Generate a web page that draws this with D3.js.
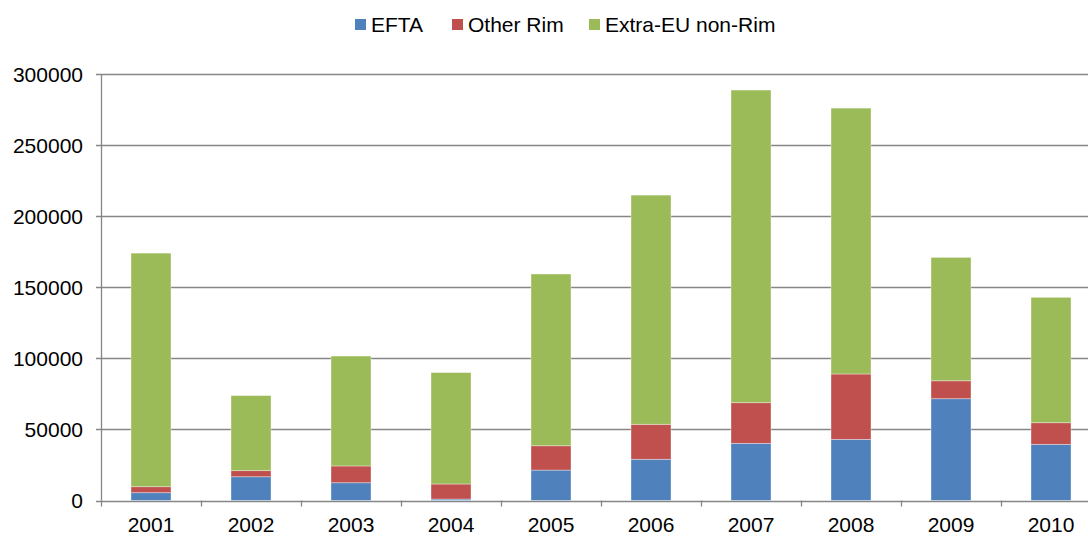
<!DOCTYPE html>
<html>
<head>
<meta charset="utf-8">
<script src="https://cdn.jsdelivr.net/npm/d3@7"></script>
<style>
  body { margin: 0; background: #fff; }
  svg text { font-family: "Liberation Sans", Arial, sans-serif; fill: #000; }
</style>
</head>
<body>
<div id="chart"></div>
<script>
// Data
const years = ["2001", "2002", "2003", "2004", "2005", "2006", "2007", "2008", "2009", "2010"];
const efta = [5500, 16700, 12500, 1000, 21400, 29000, 40200, 43000, 71600, 39500];
const otherRim = [4200, 4300, 11800, 10600, 17100, 24600, 28600, 46000, 12600, 15200];
const extraEU = [164300, 52800, 77300, 78400, 120800, 161200, 219900, 187000, 86800, 88200];
const seriesNames = ["EFTA", "Other Rim", "Extra-EU non-Rim"];
const yTicks = [0, 50000, 100000, 150000, 200000, 250000, 300000];

const config = {
  width  : 1088,
  height : 536,
  left   : 101,
  right  : 1101,
  top    : 74,
  bottom : 500.5,
  fontSize : "21px",
  colors : ["#4F81BD", "#C0504D", "#9BBB59"],
  grid   : "#868686"
};

const svg = d3.select("#chart")
  .append("svg")
    .attr("width", config.width)
    .attr("height", config.height);

const rows = years.map(function (y, i) {
  return { year: y, "EFTA": efta[i], "Other Rim": otherRim[i], "Extra-EU non-Rim": extraEU[i] };
});
const stacked = d3.stack().keys(seriesNames)(rows);

const x = d3.scaleBand()
  .domain(years)
  .range([config.left, config.right])
  .paddingInner(0.6)
  .paddingOuter(0.3);

const y = d3.scaleLinear()
  .domain([0, 300000])
  .range([config.bottom, config.top]);

// gridlines
svg.append("g")
  .selectAll("line")
  .data(yTicks)
  .enter()
    .append("line")
    .attr("x1", config.left - 5)
    .attr("x2", config.width)
    .attr("y1", d => Math.round(y(d)) + 0.5)
    .attr("y2", d => Math.round(y(d)) + 0.5)
    .style("stroke", config.grid)
    .style("stroke-width", 1.3);

// y labels
svg.append("g")
  .selectAll("text")
  .data(yTicks)
  .enter()
    .append("text")
    .attr("x", 83)
    .attr("y", d => y(d))
    .attr("dy", "0.36em")
    .attr("text-anchor", "end")
    .style("font-size", config.fontSize)
    .text(d => d);

// y axis line
svg.append("line")
  .attr("x1", config.left + 0.5)
  .attr("x2", config.left + 0.5)
  .attr("y1", config.top)
  .attr("y2", config.bottom)
  .style("stroke", config.grid)
  .style("stroke-width", 1.3);

// category ticks
const step = x.step();
const catTicks = d3.range(years.length + 1).map(i => config.left + i * step);
svg.append("g")
  .selectAll("line")
  .data(catTicks)
  .enter()
    .append("line")
    .attr("x1", d => d + 0.5)
    .attr("x2", d => d + 0.5)
    .attr("y1", config.bottom)
    .attr("y2", config.bottom + 6)
    .style("stroke", config.grid)
    .style("stroke-width", 1.3);

// bars
svg.append("g")
  .selectAll("g")
  .data(stacked)
  .enter()
    .append("g")
    .attr("fill", (d, i) => config.colors[i])
  .selectAll("rect")
  .data(d => d)
  .enter()
    .append("rect")
    .attr("x", d => x(d.data.year))
    .attr("width", x.bandwidth())
    .attr("y", d => y(d[1]))
    .attr("height", d => y(d[0]) - y(d[1]))
    .style("stroke", "rgba(255,255,255,0.45)")
    .style("stroke-width", 0.8);

// x labels
svg.append("g")
  .selectAll("text")
  .data(years)
  .enter()
    .append("text")
    .attr("x", d => x(d) + x.bandwidth() / 2)
    .attr("y", 532)
    .attr("text-anchor", "middle")
    .style("font-size", config.fontSize)
    .text(d => d);

// legend
const legendX = [355, 452, 589];
const legend = svg.append("g")
  .selectAll("g")
  .data(seriesNames)
  .enter()
    .append("g")
    .attr("transform", (d, i) => "translate(" + legendX[i] + ",0)");
legend.append("rect")
  .attr("x", 0)
  .attr("y", 19)
  .attr("width", 11)
  .attr("height", 11)
  .attr("fill", (d, i) => config.colors[i]);
legend.append("text")
  .attr("x", 16)
  .attr("y", 32)
  .style("font-size", config.fontSize)
  .text(d => d);
</script>
</body>
</html>
